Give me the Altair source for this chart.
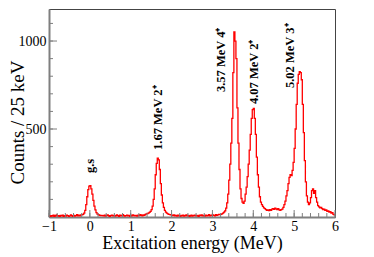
import altair as alt
import pandas as pd

# ---- data: counts per 25 keV bin (bin left edges from -1.000 MeV) ----
seg_bg1 = [6,3,8,5,10,4,7,12,5,8,3,9,6,11,4,7,5,10,8,3,6,12,7,4,9,5,8,14,6,10,7,12]
seg_gs = [12,15,22,38,70,115,155,175,178,160,130,95,62,40,25,17,13,10,8,9]
seg_bg2 = [8,6,10,5,9,12,7,4,8,11,6,9,5,7,12,8,4,10,6,9,13,7,5,8,11,6,9,4,10,7,12,8,6,9,5,11,8,14,10,7,12,9,15,18]
seg_167 = [20,22,26,32,42,62,100,160,240,305,335,325,270,190,125,80,55,38,28,22,18,15,13,12]
seg_bg3 = [10,8,12,6,9,5,11,7,4,9,6,10,5,8,12,6,9,4,7,10,5,8,11,6,9,7,4,10,8,12,6,9,5,11,7,8,13,6,10,8,12,9,7,14,10,12,15,13]
seg_high = [15,18,22,28,35,50,80,130,210,300,420,560,
            820,1052,1000,900,620,420,270,160,105,85,78,90,
            130,170,230,300,380,470,560,610,617,560,470,340,
            240,170,115,85,70,60,52,48,42,38,40,36,
            42,38,45,48,44,50,46,42,48,40,38,42,
            45,55,70,90,120,150,190,225,240,235,265,310,
            390,500,640,760,810,826,820,780,640,480,320,200,
            120,85,70,80,110,150,160,135,150,110,85,65,
            58,52,55,48,42,45,38,40,32,35,28,30,
            22,25,15,12]

counts = seg_bg1 + seg_gs + seg_bg2 + seg_167 + seg_bg3 + seg_high
bin_width = 0.025
e_start = -1.0
edges = [round(e_start + bin_width * i, 4) for i in range(len(counts) + 1)]
hist = pd.DataFrame({"E": edges, "c": counts + [counts[-1]]})

# peak labels
label_text = ["g.s", "1.67 MeV 2⁺", "3.57 MeV 4⁺", "4.07 MeV 2⁺", "5.02 MeV 3⁺"]
label_x = [0.0, 1.66, 3.22, 4.01, 4.89]
label_y = [250, 381, 710, 642, 733]
labels = pd.DataFrame({"t": label_text, "x": label_x, "y": label_y})

x_labels = [-1, 0, 1, 2, 3, 4, 5, 6]
y_labels = [500, 1000]
x_minor = [round(-1 + 0.2 * i, 2) for i in range(36)]
y_minor = [100 * i for i in range(1, 12)]

W, H = 286, 208
XD = [-1, 6]
YD = [0, 1182]
FONT = "Liberation Serif"
AX = "#7f7f7f"

xs = alt.Scale(domain=XD, nice=False, zero=False)
ys = alt.Scale(domain=YD, nice=False, zero=False)

line = alt.Chart(hist).mark_line(interpolate="step-after", color="#ff0000", strokeWidth=1.3).encode(
    x=alt.X("E:Q", scale=xs, axis=alt.Axis(
        values=x_labels, format="d", title="Excitation energy (MeV)", ticks=False,
        labelPadding=2, labelFontSize=14, labelFont=FONT, labelColor="black", labelFlush=False,
        titleFont=FONT, titleFontSize=18, titleFontWeight="normal", titleColor="black",
        titleY=31, titleBaseline="alphabetic",
        domainColor=AX, domainWidth=2, grid=False)),
    y=alt.Y("c:Q", scale=ys, axis=alt.Axis(
        values=y_labels, format="d", title="Counts / 25 keV", ticks=False,
        labelPadding=3, labelFontSize=14, labelFont=FONT, labelColor="black", labelFlush=False,
        titleFont=FONT, titleFontSize=19, titleFontWeight="normal", titleColor="black",
        titleX=-26, titleY=H / 2 + 9, titleAngle=270, titleAlign="center", titleBaseline="alphabetic",
        domainColor=AX, domainWidth=2, grid=False)),
)

xmin_df = pd.DataFrame({"v": x_minor})
xmaj_df = pd.DataFrame({"v": x_labels})
ymin_df = pd.DataFrame({"v": y_minor})
ymaj_df = pd.DataFrame({"v": y_labels})

xminor = alt.Chart(xmin_df).mark_rule(color=AX, strokeWidth=1).encode(
    x=alt.X("v:Q", scale=xs), y=alt.value(H), y2=alt.value(H - 4))
xmajor = alt.Chart(xmaj_df).mark_rule(color=AX, strokeWidth=1).encode(
    x=alt.X("v:Q", scale=xs), y=alt.value(H), y2=alt.value(H - 7))
yminor = alt.Chart(ymin_df).mark_rule(color=AX, strokeWidth=1).encode(
    y=alt.Y("v:Q", scale=ys), x=alt.value(0), x2=alt.value(4))
ymajor = alt.Chart(ymaj_df).mark_rule(color=AX, strokeWidth=1).encode(
    y=alt.Y("v:Q", scale=ys), x=alt.value(0), x2=alt.value(8))

txt = alt.Chart(labels).mark_text(
    angle=270, align="left", baseline="middle", font=FONT, fontSize=12.5,
    fontWeight="bold", color="black").encode(
    x=alt.X("x:Q", scale=xs), y=alt.Y("y:Q", scale=ys), text="t:N")

chart = alt.layer(line, xminor, xmajor, yminor, ymajor, txt).properties(
    width=W, height=H,
    autosize=alt.AutoSizeParams(type="none"),
    padding={"left": 41, "top": 1, "right": 25, "bottom": 38},
).configure_view(stroke="#444444", strokeWidth=1)

chart.save("out.html", embed_options={"renderer": "svg", "actions": False})
